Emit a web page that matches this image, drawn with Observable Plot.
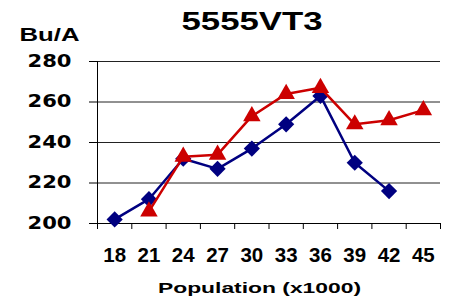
<!DOCTYPE html>
<html><head><meta charset="utf-8">
<script src="https://cdn.jsdelivr.net/npm/d3@7"></script>
<script src="https://cdn.jsdelivr.net/npm/@observablehq/plot@0.6"></script>
<style>
html,body{margin:0;padding:0;background:#fff;}
#chart svg{display:block;}
</style></head><body><div id="chart"></div>
<script>
const chartTitle = ["5555VT3"];
const yAxisTitle = ["Bu/A"];
const xAxisTitle = ["Population (x1000)"];
const populations = [18, 21, 24, 27, 30, 33, 36, 39, 42, 45];
const yieldTicks = [200, 220, 240, 260, 280];
const seriesBlue = [202, 212, 232, 227, 237, 249, 263, 230, 216, null];
const seriesRed = [null, 206, 233, 234, 253, 264, 267, 249, 251, 256];

const blueRows = populations.map((p, i) => ({pop: p, bu: seriesBlue[i]})).filter(d => d.bu != null);
const redRows = populations.map((p, i) => ({pop: p, bu: seriesRed[i]})).filter(d => d.bu != null);
const step = populations[1] - populations[0];
const bounds = populations.map(p => p - step / 2).concat([populations[populations.length - 1] + step / 2]);

const BLUE = "#000080", RED = "#CC0000";
const sans = "Liberation Sans, Arial, sans-serif";

const svg = Plot.plot({
  width: 450, height: 297,
  marginLeft: 97, marginRight: 10, marginTop: 61, marginBottom: 74,
  x: {domain: [bounds[0], bounds[bounds.length - 1]]},
  y: {domain: [yieldTicks[0], yieldTicks[yieldTicks.length - 1]]},
  style: {background: "white", color: "#000", overflow: "visible"},
  marks: [
    Plot.gridY(yieldTicks, {stroke: "#222", strokeOpacity: 1, strokeWidth: 1}),
    Plot.axisY(yieldTicks, {tickSize: 8, tickPadding: 18, fontSize: 17, fontWeight: "bold", fontFamily: "DejaVu Sans, Verdana, sans-serif", label: null}),
    Plot.axisX(populations, {tickSize: 0, tickPadding: 24, fontSize: 20.5, fontWeight: "bold", fontFamily: sans, label: null}),
    Plot.axisX(bounds, {tickSize: 6, tickFormat: () => "", label: null}),
    Plot.ruleX([bounds[0]], {stroke: "#000"}),
    Plot.ruleY([yieldTicks[0]], {stroke: "#000"}),
    Plot.line(blueRows, {x: "pop", y: "bu", stroke: BLUE, strokeWidth: 2.5}),
    Plot.dot(blueRows, {x: "pop", y: "bu", symbol: "diamond2", r: 7.3, fill: BLUE, stroke: "none"}),
    Plot.line(redRows, {x: "pop", y: "bu", stroke: RED, strokeWidth: 2.5}),
    Plot.dot(redRows, {x: "pop", y: "bu", symbol: "triangle", r: 6.5, fill: RED, stroke: "none"}),
    Plot.text(chartTitle, {frameAnchor: "top", dx: -17, dy: -40, lineAnchor: "middle", fontSize: 25, fontWeight: "bold", fontFamily: sans}),
    Plot.text(yAxisTitle, {frameAnchor: "top-left", textAnchor: "start", dx: -78, dy: -27, lineAnchor: "middle", fontSize: 19, fontWeight: "bold", fontFamily: sans}),
    Plot.text(xAxisTitle, {frameAnchor: "bottom", dx: -9.5, dy: 64.5, lineAnchor: "middle", fontSize: 15, fontWeight: "bold", fontFamily: sans})
  ]
});
document.getElementById("chart").appendChild(svg);

// stretch text horizontally like the reference
const stretch = (sel, len) => sel.attr("textLength", len).attr("lengthAdjust", "spacingAndGlyphs");
const s = d3.select(svg);
s.selectAll("text").each(function() {
  const t = this.textContent;
  if (t === chartTitle[0]) stretch(d3.select(this), 141);
  else if (t === yAxisTitle[0]) stretch(d3.select(this), 60);
  else if (t === xAxisTitle[0]) stretch(d3.select(this), 203);
});
stretch(s.selectAll('g[aria-label="y-axis tick label"] text'), 44);
</script></body></html>
